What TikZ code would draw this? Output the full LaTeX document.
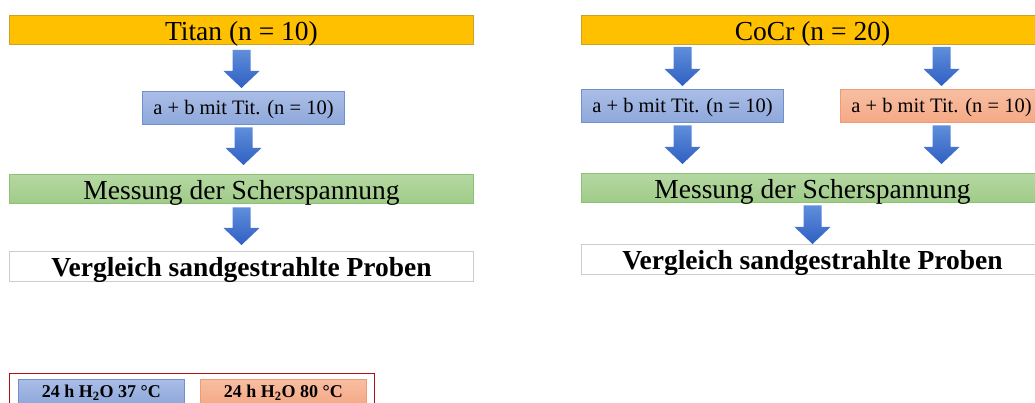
\documentclass[tikz,border=0pt]{standalone}
\usepackage{fontspec}
\setmainfont{Liberation Serif}
\usetikzlibrary{calc}
\definecolor{ybar}{HTML}{FFC000}
\definecolor{ybord}{HTML}{C9A227}
\definecolor{gtop}{HTML}{B5D8A2}
\definecolor{gbot}{HTML}{9FCB88}
\definecolor{gbord}{HTML}{8DC173}
\definecolor{btop}{HTML}{AABDE6}
\definecolor{bbot}{HTML}{8EA8DB}
\definecolor{bbord}{HTML}{6F8FCF}
\definecolor{otop}{HTML}{F8BEA2}
\definecolor{obot}{HTML}{F4A985}
\definecolor{obord}{HTML}{F09B74}
\definecolor{atop}{HTML}{5F8EDB}
\definecolor{abot}{HTML}{2F5FC2}
\definecolor{legred}{HTML}{B01010}
\definecolor{vbord}{HTML}{CCCCCC}
\begin{document}
\begin{tikzpicture}[x=1pt,y=-1pt,
  box/.style={rectangle, inner sep=0pt, line width=1pt, anchor=north west, align=center},
  bigtxt/.style={font=\fontsize{27.5}{30}\selectfont, text height=23pt, text depth=2pt},
  smalltxt/.style={font=\fontsize{20.5}{24}\selectfont, text height=15pt, text depth=2pt},
  yel/.style={box, bigtxt, fill=ybar, draw=ybord, minimum width=464pt, minimum height=29pt},
  grn/.style={box, bigtxt, top color=gtop, bottom color=gbot, draw=gbord, minimum width=464pt, minimum height=29.5pt},
  blu/.style={box, smalltxt, top color=btop, bottom color=bbot, draw=bbord, minimum width=202pt, minimum height=33.5pt},
  ora/.style={box, smalltxt, top color=otop, bottom color=obot, draw=obord, minimum width=202pt, minimum height=33.5pt},
  wht/.style={box, bigtxt, font=\fontsize{27.5}{30}\selectfont\bfseries, fill=white, draw=vbord, minimum width=464pt, minimum height=29.5pt},
  legbox/.style={box, font=\fontsize{18}{20}\selectfont\bfseries, text height=12pt, text depth=0pt, minimum height=25pt, line width=0.8pt},
  blk/.style={draw=none, top color=atop, bottom color=abot,
    to path={let \p1=(\tikztostart), \p2=(\tikztotarget) in
      (\x1-9,\y1) -- (\x1+9,\y1) -- (\x1+9,\y2+17) -- (\x1+18,\y2+17) -- (\x1,\y2)
      -- (\x1-18,\y2+17) -- (\x1-9,\y2+17) -- cycle}}
]
\useasboundingbox (0,0) rectangle (1035,403);
\clip (0,0) rectangle (1035,403);

% left column
\node[yel] (titan) at (9,15) {Titan (n = 10)};
\node[blu] (blueA) at (142,91) {a + b mit Tit. (n = 10)};
\node[grn] (messA) at (9,174) {Messung der Scherspannung};
\node[wht] (vergA) at (9,251) {Vergleich sandgestrahlte Proben};

\path[blk] ([yshift=-5pt]titan.south) to ([yshift=3pt]blueA.north);
\path[blk] ([yshift=-2pt]blueA.south) to ([yshift=9pt]messA.north);
\path[blk] ([yshift=-3pt]messA.south) to ([yshift=6pt]vergA.north);

% right column
\node[yel, minimum width=462pt] (cocr) at (581,15) {CoCr (n = 20)};
\node[blu] (blueB) at (581,89) {a + b mit Tit. (n = 10)};
\node[ora] (oraB) at (840,89) {a + b mit Tit. (n = 10)};
\node[grn, minimum width=462pt] (messB) at (581,173) {Messung der Scherspannung};
\node[wht, minimum width=462pt] (vergB) at (581,244) {Vergleich sandgestrahlte Proben};

\coordinate (s1) at (cocr.south -| blueB.north);
\coordinate (s2) at (cocr.south -| oraB.north);
\coordinate (t1) at (messB.north -| blueB.south);
\coordinate (t2) at (messB.north -| oraB.south);
\path[blk] ([yshift=-2pt]s1) to ([yshift=3pt]blueB.north);
\path[blk] ([yshift=-2pt]s2) to ([yshift=3pt]oraB.north);
\path[blk] ([yshift=-2pt]blueB.south) to ([yshift=9pt]t1);
\path[blk] ([yshift=-2pt]oraB.south) to ([yshift=9pt]t2);
\path[blk] ([yshift=-2pt]messB.south) to ([yshift=0pt]vergB.north);

% legend
\node[draw=legred, line width=1pt, rectangle, anchor=north west, minimum width=365pt, minimum height=60pt, inner sep=0pt] (leg) at (9,373) {};
\node[legbox, top color=btop, bottom color=bbot, draw=bbord, minimum width=166pt] (legA) at (18,379) {24 h H\textsubscript{2}O 37 °C};
\node[legbox, top color=otop, bottom color=obot, draw=obord, minimum width=166pt] (legB) at (200,379) {24 h H\textsubscript{2}O 80 °C};
\end{tikzpicture}
\end{document}
